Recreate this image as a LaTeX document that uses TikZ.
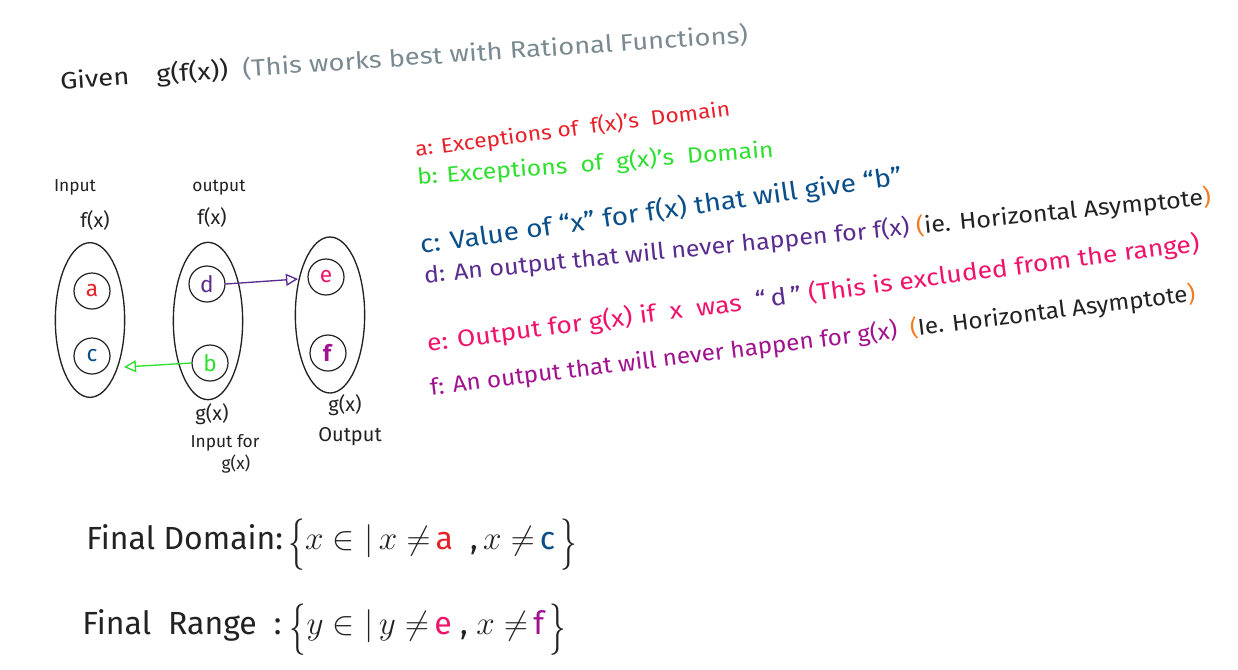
\documentclass[tikz,border=0pt]{standalone}
\usepackage{fontspec}
\setmainfont{Fira Sans}
\usetikzlibrary{shapes.geometric,arrows.meta}
\definecolor{cred}{HTML}{E8202A}
\definecolor{cgreen}{HTML}{2EE02E}
\definecolor{cblue}{HTML}{0B4F8A}
\definecolor{cpurple}{HTML}{5B2C8F}
\definecolor{cpink}{HTML}{F0136B}
\definecolor{cmag}{HTML}{A0128F}
\definecolor{corange}{HTML}{F27A20}
\definecolor{cgray}{HTML}{7A8A90}
\definecolor{cink}{HTML}{222222}
\newcommand{\bigbrace}[1]{\raisebox{-0.25em}{\scalebox{1}[1.55]{$#1$}}}
\begin{document}
\begin{tikzpicture}[x=0.75pt,y=-0.75pt,
  annot/.style={anchor=west,inner sep=0pt,font=\fontsize{16}{19}\selectfont},
  bigell/.style={ellipse,draw=cink,line width=1pt,minimum width=52pt},
  elem/.style={circle,draw=cink,line width=0.9pt,minimum size=27pt,inner sep=0pt,font=\fontsize{17}{20}\selectfont},
  lbl/.style={inner sep=0pt,text=cink,font=\fontsize{15}{17}\selectfont},
  small/.style={inner sep=0pt,text=cink,font=\fontsize{13}{15}\selectfont},
  final/.style={anchor=west,inner sep=0pt,text=cink,font=\fontsize{24}{28}\selectfont},
  arr/.style={line width=1pt,-{Triangle[open,length=9pt,width=9pt]}}]
\path[use as bounding box,fill=white] (0,0) rectangle (1238,669);

% title
\node[anchor=west,inner sep=0pt,rotate=3.9,text=cink,font=\fontsize{16}{19}\selectfont] (title) at (60,82)
  {\resizebox{517pt}{15pt}{Given\quad g(f(x))\ \ {\color{cgray}(This works best with Rational Functions)}}};

% annotations
\node[annot,rotate=7.4,text=cred] (la) at (415,150) {\resizebox{238pt}{13pt}{a: Exceptions of\ \ f(x)'s\ \ Domain}};
\node[annot,rotate=4.5,text=cgreen] (lb) at (417,178) {\resizebox{268pt}{14pt}{b: Exceptions\ \ of\ \ g(x)'s\ \ Domain}};
\node[annot,rotate=8.2,text=cblue] (lc) at (420,246) {\resizebox{365pt}{16pt}{c: Value\ of\ “x”\ for\ f(x)\ that will give “b”}};
\node[annot,rotate=5.7,text=cpurple] (ld) at (424,276) {\resizebox{593pt}{14.5pt}{d: An output that will never happen for f(x)\ {\color{corange}(}{\color{cink}ie. Horizontal Asymptote}{\color{corange})}}};
\node[annot,rotate=7.4,text=cpink] (le) at (427,344) {\resizebox{584pt}{15pt}{e: Output for g(x) if\ \ x\ \ was\ \ {\color{cpurple}“\,d\,”}\ (This is excluded from the range)}};
\node[annot,rotate=7.0,text=cmag] (lf) at (430,388) {\resizebox{578pt}{14.5pt}{f: An output that will never happen for g(x)\ \ {\color{corange}(}{\color{cink}Ie. Horizontal Asymptote}{\color{corange})}}};

% diagram
\node[bigell,minimum height=116pt] (E1) at (90,320) {};
\node[bigell,minimum height=118pt] (E2) at (208,321) {};
\node[bigell,minimum height=117pt] (E3) at (330,315) {};
\node[elem,text=cred] (a) at (92,291) {a};
\node[elem,text=cblue] (c) at (92,356) {c};
\node[elem,text=cpurple] (d) at (207,284) {d};
\node[elem,text=cgreen] (b) at (210,363) {b};
\node[elem,text=cpink] (e) at (326,277) {e};
\node[elem,text=cmag] (f) at (328,353) {\textbf{f}};
\coordinate (dtip) at (298,279);
\coordinate (btip) at (124,367);
\draw[arr,cpurple] (d.east) -- (dtip);
\draw[arr,cgreen] (b.west) -- (btip);

\node[small] (in1) at (75,187) {Input};
\node[lbl] (fx1) at (95,220) {f(x)};
\node[small] (out1) at (219,188) {output};
\node[lbl] (fx2) at (212,217) {f(x)};
\node[lbl] (gx1) at (212,414) {g(x)};
\node[small] (inf) at (225,443) {Input for};
\node[small] (gx2) at (236,464) {g(x)};
\node[lbl] (gx3) at (345,405) {g(x)};
\node[lbl] (outg) at (350,437) {Output};

% final
\node[final] (fd) at (86,545) {Final Domain:\,\bigbrace{\{}$x\in|\,x\neq$\,{\color{cred}a}\ \ ,\,$x\neq$\,{\color{cblue}c}\,\bigbrace{\}}};
\node[final] (fr) at (82,630) {Final\ \ Range\ \ :\ \bigbrace{\{}$y\in|\,y\neq$\,{\color{cpink}e}\ ,\ $x\neq$\,{\color{cmag}f}\,\bigbrace{\}}};
\end{tikzpicture}
\end{document}
